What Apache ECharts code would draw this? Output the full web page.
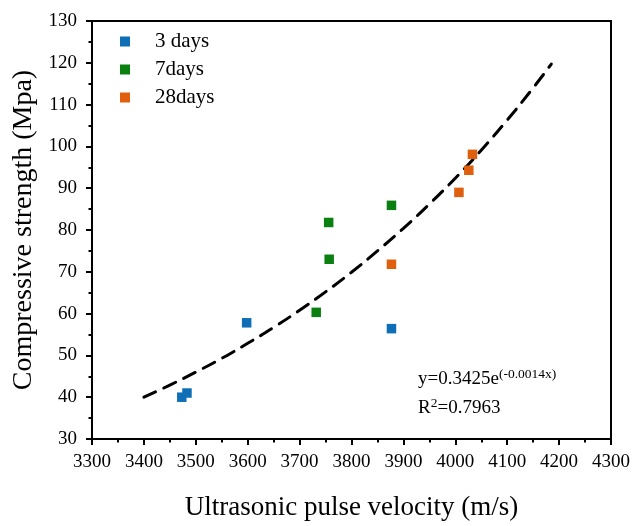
<!DOCTYPE html>
<html><head><meta charset="utf-8">
<script src="https://cdn.jsdelivr.net/npm/echarts@6/dist/echarts.min.js"></script>
<style>html,body{margin:0;padding:0;background:#fff}#c{width:633px;height:526px}</style>
</head><body><div id="c"></div>
<script>
const days3 = [[3473, 40.0], [3483, 41.0], [3598, 57.8], [3877, 56.4]];
const days7 = [[3732, 60.3], [3757, 73.0], [3756, 81.8], [3877, 85.9]];
const days28 = [[3877, 71.8], [4007, 89.0], [4026, 94.3], [4033, 98.1]];
const fitLine = [[3400, 40.0], [3450, 42.9], [3500, 46.0], [3550, 49.3], [3600, 52.9], [3650, 56.7], [3700, 60.8], [3750, 65.2], [3800, 69.9], [3850, 75.0], [3900, 80.4], [3950, 86.2], [4000, 92.4], [4050, 99.1], [4100, 106.3], [4150, 114.0], [4185, 119.7]];
const seriesNames = ['3 days', '7days', '28days'];
const F = 'Liberation Serif, DejaVu Serif, serif';
const chart = echarts.init(document.getElementById('c'));
const axisCommon = {
  axisLine: {show: true, onZero: false, lineStyle: {color: '#000', width: 2}},
  axisTick: {show: true, inside: false, length: 6, lineStyle: {color: '#000', width: 2}},
  minorTick: {show: true, splitNumber: 2, length: 3.5, lineStyle: {color: '#000', width: 2}},
  splitLine: {show: false},
  axisLabel: {color: '#000', fontFamily: F, fontSize: 19, formatter: v => String(v)}
};
chart.setOption({
  animation: false,
  grid: {left: 92, right: 21, top: 21, bottom: 83, show: true, borderColor: '#000', borderWidth: 2},
  xAxis: Object.assign({}, axisCommon, {
    type: 'value', min: 3300, max: 4300, interval: 100,
    name: 'Ultrasonic pulse velocity (m/s)', nameLocation: 'middle', nameGap: 55,
    nameTextStyle: {color: '#000', fontFamily: F, fontSize: 27},
    axisLabel: Object.assign({}, axisCommon.axisLabel, {margin: 14})
  }),
  yAxis: Object.assign({}, axisCommon, {
    type: 'value', min: 30, max: 130, interval: 10,
    name: 'Compressive strength (Mpa)', nameLocation: 'middle', nameGap: 47,
    nameTextStyle: {color: '#000', fontFamily: F, fontSize: 28},
    axisLabel: Object.assign({}, axisCommon.axisLabel, {margin: 15})
  }),
  legend: {
    orient: 'vertical', left: 115, top: 26, itemGap: 7,
    icon: 'rect', itemWidth: 10, itemHeight: 10,
    textStyle: {color: '#000', fontFamily: F, fontSize: 21, padding: [0, 0, 0, 20]},
    data: seriesNames
  },
  series: [
    {name: seriesNames[0], type: 'scatter', symbol: 'rect', symbolSize: 9.5, itemStyle: {color: '#0f6fb6', opacity: 1}, data: days3, z: 3},
    {name: seriesNames[1], type: 'scatter', symbol: 'rect', symbolSize: 9.5, itemStyle: {color: '#0a8010', opacity: 1}, data: days7, z: 3},
    {name: seriesNames[2], type: 'scatter', symbol: 'rect', symbolSize: 9.5, itemStyle: {color: '#df5f0e', opacity: 1}, data: days28, z: 3},
    {name: 'fit', type: 'line', data: fitLine, smooth: true, symbol: 'none', z: 2,
     lineStyle: {color: '#000', width: 3, type: [13, 9], cap: 'round'}}
  ],
  graphic: [
    {type: 'text', left: 418, top: 367, style: {
      rich: {n: {fontFamily: F, fontSize: 19, fill: '#000'}, s: {fontFamily: F, fontSize: 13.5, fill: '#000', padding: [0, 0, 10, 0]}},
      text: '{n|y=0.3425e}{s|(-0.0014x)}'}},
    {type: 'text', left: 418, top: 396, style: {
      rich: {n: {fontFamily: F, fontSize: 19, fill: '#000'}, s: {fontFamily: F, fontSize: 13.5, fill: '#000', padding: [0, 0, 10, 0]}},
      text: '{n|R}{s|2}{n|=0.7963}'}}
  ]
});
</script></body></html>
